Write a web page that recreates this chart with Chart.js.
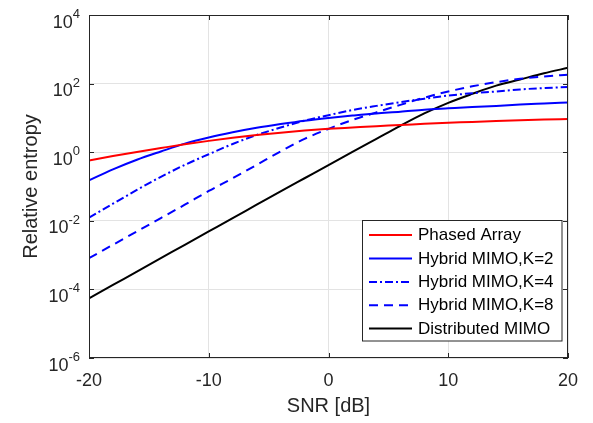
<!DOCTYPE html>
<html><head><meta charset="utf-8">
<script src="https://cdn.jsdelivr.net/npm/chart.js@4.4.0/dist/chart.umd.min.js"></script>
<style>html,body{margin:0;padding:0;background:#fff;} canvas{display:block;}</style>
</head><body>
<canvas id="c" width="593" height="423"></canvas>
<script>
// ---- data ----
const snr = [-20,-18,-16,-14,-12,-10,-8,-6,-4,-2,0,2,4,6,8,10,12,14,16,18,20];
const phasedArray = [0.575,0.776,1.02,1.32,1.70,2.14,2.63,3.16,3.72,4.27,4.79,5.25,5.75,6.17,6.76,7.24,7.59,8.13,8.51,8.91,9.33];
const hybridK2 = [0.151,0.316,0.603,1.05,1.78,2.69,3.80,5.13,6.61,8.32,10.0,11.7,13.5,15.1,17.4,19.1,20.9,22.4,24.5,26.3,28.2];
const hybridK4 = [0.0123,0.0316,0.0794,0.191,0.427,0.871,1.74,3.16,5.25,8.32,12.0,17.0,22.4,28.8,36.3,44.7,52.5,58.9,67.6,74.1,79.4];
const hybridK8 = [8.13e-4,2.00e-3,4.90e-3,0.0120,0.0295,0.0741,0.174,0.427,1.05,2.45,4.79,8.71,14.5,24.0,38.9,58.9,83.2,110,138,162,182];
const distributed = [5.50e-5,1.35e-4,3.31e-4,8.13e-4,2.00e-3,4.90e-3,0.0120,0.0295,0.0724,0.174,0.417,1.02,2.45,5.89,13.5,27.5,50.1,87.1,132,200,288];
const seriesNames = ['Phased Array','Hybrid MIMO,K=2','Hybrid MIMO,K=4','Hybrid MIMO,K=8','Distributed MIMO'];
const xTickValues = [-20,-10,0,10,20];
const yTickValues = [1e-6,1e-4,1e-2,1e0,1e2,1e4];

// ---- styles ----
const FONT = "'Liberation Sans', Arial, Helvetica, sans-serif";
const TXT = '#262626';
const seriesData = [phasedArray, hybridK2, hybridK4, hybridK8, distributed];
const seriesColor = ['#ff0000','#0000ff','#0000ff','#0000ff','#000000'];
const seriesDash = [[],[],[8,3,2,3],[9,6],[]];

const datasets = seriesData.map((arr,i)=>({
  label: seriesNames[i],
  data: snr.map((x,j)=>({x:x, y:arr[j]})),
  borderColor: seriesColor[i],
  borderDash: seriesDash[i],
  borderWidth: 2,
  pointRadius: 0,
  fill: false,
  cubicInterpolationMode: 'monotone'
}));

const decor = {
  id: 'decor',
  afterDraw(chart) {
    const ctx = chart.ctx, a = chart.chartArea;
    const xs = chart.scales.x, ys = chart.scales.y;
    ctx.save();
    // box
    ctx.strokeStyle = TXT; ctx.lineWidth = 1; ctx.setLineDash([]);
    ctx.strokeRect(Math.round(a.left)+0.5, Math.round(a.top)+0.5, Math.round(a.right-a.left)-1, Math.round(a.bottom-a.top)-1);
    // inward ticks
    const tl = 5;
    ctx.beginPath();
    xTickValues.forEach(v=>{
      const px = Math.round(xs.getPixelForValue(v))+0.5;
      ctx.moveTo(px, a.bottom); ctx.lineTo(px, a.bottom-tl);
      ctx.moveTo(px, a.top); ctx.lineTo(px, a.top+tl);
    });
    yTickValues.forEach(v=>{
      const py = Math.round(ys.getPixelForValue(v))+0.5;
      ctx.moveTo(a.left, py); ctx.lineTo(a.left+tl, py);
      ctx.moveTo(a.right, py); ctx.lineTo(a.right-tl, py);
    });
    ctx.stroke();
    // y tick labels with superscript exponents
    ctx.fillStyle = TXT;
    ctx.textAlign = 'right';
    ctx.textBaseline = 'alphabetic';
    const rx = a.left - 9;
    ys.ticks.forEach(t=>{
      const py = ys.getPixelForValue(t.value);
      const e = String(Math.round(Math.log10(t.value)));
      ctx.font = '13px ' + FONT;
      const ew = ctx.measureText(e).width;
      ctx.fillText(e, rx, py + 3);
      ctx.font = '18px ' + FONT;
      ctx.fillText('10', rx - ew, py + 12.6);
    });
    // legend
    const L = {x: 362.5, y: 220.5, w: 199.5, h: 120.5};
    ctx.fillStyle = '#ffffff';
    ctx.fillRect(L.x, L.y, L.w, L.h);
    ctx.strokeStyle = TXT; ctx.lineWidth = 1;
    ctx.strokeRect(L.x, L.y, L.w, L.h);
    const rows = [235, 258.5, 282, 305.3, 328.5];
    ctx.font = '17px ' + FONT;
    ctx.textAlign = 'left';
    ctx.textBaseline = 'middle';
    chart.data.datasets.forEach((ds,i)=>{
      const y = rows[i];
      ctx.beginPath();
      ctx.strokeStyle = ds.borderColor; ctx.lineWidth = 2;
      ctx.setLineDash(ds.borderDash || []);
      ctx.moveTo(369, y); ctx.lineTo(412, y);
      ctx.stroke();
      ctx.setLineDash([]);
      ctx.fillStyle = '#000000';
      ctx.fillText(ds.label, 418, y + 0.5);
    });
    ctx.restore();
  }
};

new Chart(document.getElementById('c'), {
  type: 'line',
  data: { datasets },
  plugins: [decor],
  options: {
    responsive: false,
    animation: false,
    layout: { padding: { left: 0, right: 25, top: 15, bottom: 0 } },
    plugins: { legend: { display: false }, tooltip: { enabled: false } },
    scales: {
      x: {
        type: 'linear', min: -20, max: 20,
        afterBuildTicks: s => { s.ticks = xTickValues.map(v => ({ value: v })); },
        afterFit: s => { s.height = 65; },
        grid: { color: '#e3e3e3', drawTicks: false },
        border: { display: false },
        ticks: { color: TXT, font: { family: FONT, size: 18 }, padding: 12, maxRotation: 0, autoSkip: false },
        title: { display: true, text: 'SNR [dB]', color: TXT, font: { family: FONT, size: 20 }, padding: { top: 0, bottom: 5 } }
      },
      y: {
        type: 'logarithmic', min: 1e-6, max: 1e4,
        afterBuildTicks: s => { s.ticks = yTickValues.map(v => ({ value: v })); },
        afterFit: s => { s.width = 89; },
        grid: { color: '#e3e3e3', drawTicks: false },
        border: { display: false },
        ticks: { display: false },
        title: { display: true, text: 'Relative entropy', color: TXT, font: { family: FONT, size: 20 }, padding: { top: 19, bottom: 0 } }
      }
    }
  }
});
</script>
</body></html>
